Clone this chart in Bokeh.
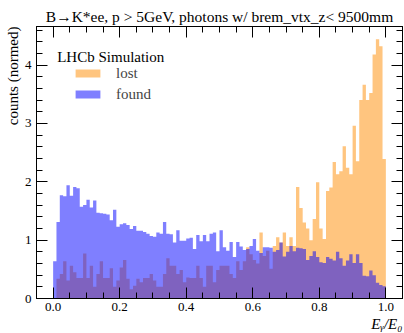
import numpy as np
from bokeh.plotting import figure
from bokeh.models import (Range1d, LinearAxis, Label, Legend, LegendItem, Title,
                          SingleIntervalTicker, NumeralTickFormatter,
                          CustomJSTickFormatter, ColumnDataSource)
from bokeh.embed import file_html
from bokeh.resources import INLINE

# ---- data -----------------------------------------------------------------
bin_lo, bin_hi, n_bins = 0.0, 1.0, 100
edges = list(np.linspace(bin_lo, bin_hi, n_bins + 1))

lost = [0.00, 0.34, 0.42, 0.64, 0.31, 0.56, 0.45, 0.35, 0.35, 0.77,
        0.35, 0.56, 0.20, 0.42, 0.64, 0.35, 0.35, 0.52, 0.20, 0.31,
        0.53, 0.66, 0.34, 0.16, 0.22, 0.34, 0.28, 0.35, 0.35, 0.42,
        0.31, 0.20, 0.20, 0.42, 0.69, 0.56, 0.56, 0.42, 0.49, 0.28,
        0.36, 0.35, 0.35, 0.56, 0.35, 0.20, 0.56, 0.56, 0.28, 0.49,
        0.56, 0.56, 0.56, 0.42, 0.35, 0.64, 0.49, 0.64, 0.88, 0.76,
        0.66, 0.60, 1.13, 0.73, 0.82, 0.51, 0.90, 1.05, 0.96, 1.13,
        0.90, 1.05, 0.90, 1.91, 1.55, 1.30, 1.20, 1.00, 1.36, 1.99,
        1.20, 1.02, 1.84, 1.90, 2.34, 2.13, 2.18, 2.61, 2.24, 2.13,
        2.96, 2.35, 3.40, 3.66, 3.40, 3.52, 4.18, 4.44, 4.32, 2.39]

found = [0.64, 1.31, 1.77, 1.75, 1.94, 1.76, 1.91, 1.89, 1.57, 1.60,
         1.69, 1.56, 1.68, 1.47, 1.46, 1.45, 1.44, 1.34, 1.52, 1.23,
         1.27, 1.29, 1.26, 1.19, 1.24, 1.16, 1.16, 1.14, 1.11, 1.07,
         1.06, 1.13, 1.11, 1.31, 1.11, 1.10, 0.96, 1.17, 0.99, 0.99,
         1.03, 1.04, 0.85, 1.09, 0.98, 1.09, 0.98, 1.11, 1.13, 0.81,
         1.17, 0.88, 0.82, 0.97, 0.71, 0.97, 0.89, 0.83, 0.85, 0.90,
         1.02, 0.82, 0.78, 0.88, 0.88, 0.87, 0.80, 0.83, 0.96, 0.72,
         0.80, 0.90, 0.81, 0.87, 0.86, 0.85, 0.66, 0.73, 0.81, 0.71,
         0.62, 0.61, 0.71, 0.68, 0.65, 0.80, 0.69, 0.56, 0.65, 0.76,
         0.61, 0.76, 0.61, 0.39, 0.38, 0.48, 0.40, 0.27, 0.23, 0.21]

series_names = ["lost", "found"]
title_text = "B\u2192K*ee, p > 5GeV, photons w/ brem_vtx_z< 9500mm"
ylabel_text = "counts (normed)"
xlabel_text = "E\u1d67/E\u2080"
FONT = "Liberation Serif"

# ---- figure ---------------------------------------------------------------
W, H = 404, 333
p = figure(width=W, height=H, output_backend="svg", toolbar_location=None,
           x_range=Range1d(-0.05, 1.05), y_range=Range1d(0, 4.66),
           min_border_left=36, min_border_right=2, min_border_top=26,
           min_border_bottom=35)
p.xgrid.visible = False
p.ygrid.visible = False
p.outline_line_color = "black"
p.background_fill_color = "white"
p.border_fill_color = "white"

src_lost = ColumnDataSource(dict(x=edges, y=lost + [lost[-1]]))
src_found = ColumnDataSource(dict(x=edges, y=found + [found[-1]]))
r_lost = p.varea_step(x="x", y1=0, y2="y", step_mode="after", source=src_lost,
                      fill_color="darkorange", fill_alpha=0.5)
r_found = p.varea_step(x="x", y1=0, y2="y", step_mode="after", source=src_found,
                       fill_color="blue", fill_alpha=0.5)

xt = SingleIntervalTicker(interval=0.2, num_minor_ticks=4)
yt = SingleIntervalTicker(interval=1, num_minor_ticks=5)

ax_top = LinearAxis()
ax_right = LinearAxis()
p.add_layout(ax_top, "above")
p.add_layout(ax_right, "right")

for ax in p.xaxis:
    ax.ticker = xt
for ax in p.yaxis:
    ax.ticker = yt
for ax in p.axis:
    ax.major_tick_in = 11
    ax.major_tick_out = 0
    ax.minor_tick_in = 6
    ax.minor_tick_out = 0
    ax.axis_line_color = "black"
    ax.major_tick_line_color = "black"
    ax.minor_tick_line_color = "black"
    ax.major_label_text_font = FONT
    ax.major_label_text_font_size = "13px"
    ax.major_label_text_color = "black"
    ax.axis_label = None

p.below[0].formatter = NumeralTickFormatter(format="0.0")
p.below[0].major_label_standoff = 4
p.left[0].major_label_standoff = 5
for ax in (ax_top, ax_right):
    ax.formatter = CustomJSTickFormatter(code="return ''")
    ax.major_label_standoff = 0

# ---- texts ----------------------------------------------------------------
p.title.text = title_text
p.title.align = "center"
p.title.text_font = FONT
p.title.text_font_size = "15.5px"
p.title.text_font_style = "normal"
p.title.text_color = "black"
p.title.standoff = 4

p.add_layout(Title(text=ylabel_text, align="right", text_font=FONT,
                   text_font_size="15px", text_font_style="normal",
                   text_color="black", standoff=2), "left")

p.add_layout(Title(text=xlabel_text, align="right", text_font=FONT,
                   text_font_size="15px", text_font_style="italic",
                   text_color="black", standoff=0), "below")

p.add_layout(Label(x=20.7, y=241.3, x_units="screen", y_units="screen",
                   text="LHCb Simulation", text_font=FONT, text_font_size="15px",
                   text_baseline="alphabetic", text_color="black"))

legend = Legend(items=[LegendItem(label=series_names[0], renderers=[r_lost]),
                       LegendItem(label=series_names[1], renderers=[r_found])],
                location=(36, 195), margin=0, padding=0, spacing=3,
                glyph_width=31, glyph_height=10, label_height=18,
                label_standoff=13, label_text_font=FONT,
                label_text_font_size="15px", border_line_color=None,
                background_fill_alpha=0)
p.add_layout(legend)

open("out.html", "w").write(file_html(p, INLINE))
